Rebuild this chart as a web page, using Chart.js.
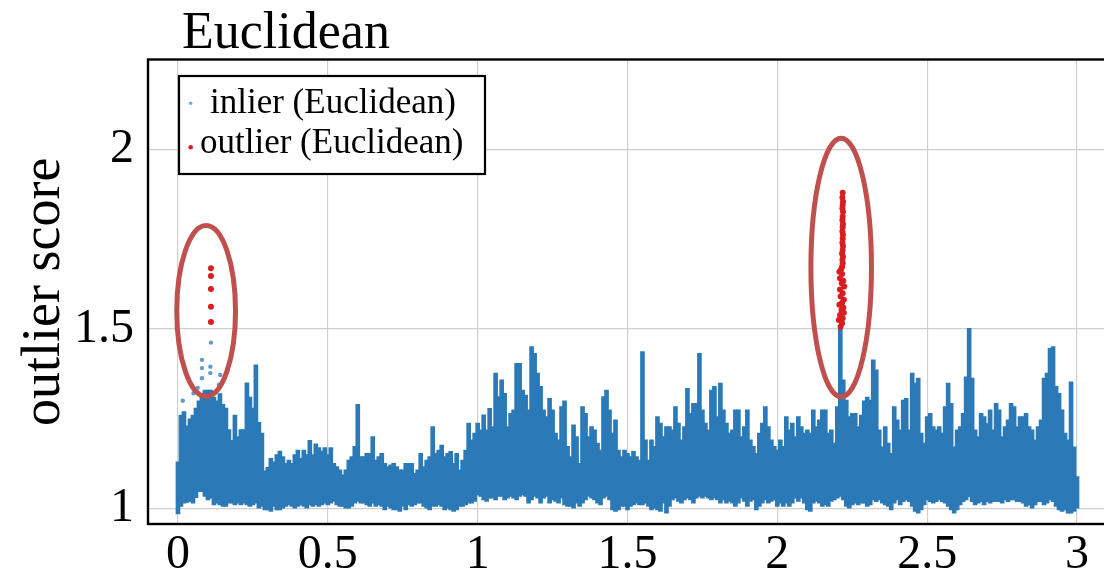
<!DOCTYPE html>
<html>
<head>
<meta charset="utf-8">
<title>Euclidean outlier score</title>
<script src="https://cdn.jsdelivr.net/npm/chart.js@4.4.1/dist/chart.umd.min.js"></script>
<style>
    html, body { margin: 0; padding: 0; background: #fff; overflow: hidden; }
    #wrap { width: 1112px; height: 573px; }
</style>
</head>
<body>
<div id="wrap"><canvas id="score-chart"></canvas></div>
<script>
// texts and ticks
const chartTitle = 'Euclidean';
const yAxisTitle = 'outlier score';
const seriesLabels = ['inlier (Euclidean)', 'outlier (Euclidean)'];
const xTicks = [0, 0.5, 1, 1.5, 2, 2.5, 3];
const yTicks = [1, 1.5, 2];

// inliers: too many points to list, so one column per 0.01 in x,
// lowest and highest score of the band in that column (x = 0 .. 3)
const binStep = 0.01;
const inlierHigh = [
    1.13, 1.26, 1.27, 1.23, 1.25, 1.26, 1.28, 1.30, 1.32, 1.33,
    1.33, 1.33, 1.31, 1.30, 1.32, 1.29, 1.28, 1.22, 1.19, 1.26,
    1.20, 1.22, 1.22, 1.35, 1.31, 1.28, 1.40, 1.24, 1.21, 1.105,
    1.115, 1.14, 1.13, 1.15, 1.16, 1.145, 1.126, 1.135, 1.126, 1.15,
    1.163, 1.14, 1.163, 1.15, 1.19, 1.15, 1.18, 1.17, 1.16, 1.17,
    1.15, 1.17, 1.126, 1.117, 1.108, 1.094, 1.108, 1.135, 1.145, 1.173,
    1.29, 1.145, 1.145, 1.154, 1.154, 1.20, 1.135, 1.145, 1.154, 1.126,
    1.117, 1.122, 1.126, 1.117, 1.108, 1.108, 1.126, 1.126, 1.126, 1.098,
    1.108, 1.154, 1.117, 1.135, 1.145, 1.228, 1.154, 1.163, 1.177, 1.145,
    1.154, 1.159, 1.126, 1.154, 1.108, 1.135, 1.163, 1.238, 1.191, 1.21,
    1.238, 1.219, 1.261, 1.219, 1.279, 1.228, 1.377, 1.312, 1.358, 1.321,
    1.228, 1.265, 1.275, 1.404, 1.404, 1.33, 1.316, 1.275, 1.451, 1.432,
    1.377, 1.34, 1.275, 1.256, 1.307, 1.275, 1.21, 1.191, 1.284, 1.30,
    1.173, 1.145, 1.233, 1.20, 1.126, 1.284, 1.265, 1.20, 1.228, 1.219,
    1.182, 1.163, 1.312, 1.33, 1.275, 1.21, 1.247, 1.163, 1.145, 1.163,
    1.154, 1.145, 1.159, 1.145, 1.135, 1.437, 1.191, 1.135, 1.191, 1.173,
    1.256, 1.238, 1.20, 1.228, 1.228, 1.219, 1.284, 1.238, 1.191, 1.228,
    1.335, 1.265, 1.293, 1.293, 1.432, 1.275, 1.238, 1.219, 1.33, 1.34,
    1.256, 1.349, 1.275, 1.238, 1.21, 1.219, 1.275, 1.275, 1.20, 1.228,
    1.275, 1.191, 1.173, 1.154, 1.21, 1.238, 1.284, 1.228, 1.191, 1.173,
    1.163, 1.191, 1.173, 1.256, 1.219, 1.238, 1.20, 1.256, 1.228, 1.21,
    1.219, 1.21, 1.275, 1.228, 1.247, 1.275, 1.275, 1.21, 1.219, 1.182,
    1.284, 1.50, 1.358, 1.302, 1.256, 1.265, 1.265, 1.228, 1.26, 1.30,
    1.31, 1.302, 1.414, 1.386, 1.219, 1.172, 1.228, 1.182, 1.154, 1.284,
    1.247, 1.219, 1.302, 1.307, 1.219, 1.377, 1.349, 1.363, 1.21, 1.182,
    1.256, 1.265, 1.228, 1.219, 1.228, 1.21, 1.284, 1.349, 1.293, 1.172,
    1.219, 1.228, 1.265, 1.367, 1.502, 1.363, 1.219, 1.20, 1.265, 1.256,
    1.237, 1.275, 1.219, 1.293, 1.275, 1.20, 1.228, 1.247, 1.293, 1.284,
    1.228, 1.256, 1.256, 1.265, 1.228, 1.219, 1.191, 1.228, 1.247, 1.363,
    1.377, 1.446, 1.451, 1.34, 1.321, 1.275, 1.21, 1.191, 1.353, 1.172,
    1.089
];
const inlierLow = [
    0.985, 1.006, 1.015, 1.017, 1.02, 1.015, 1.03, 1.047, 1.047, 1.034,
    1.024, 1.029, 1.01, 1.015, 1.01, 1.006, 1.006, 1.015, 1.015, 1.01,
    1.015, 1.01, 1.015, 1.01, 1.006, 1.01, 1.015, 1.001, 1.006, 0.996,
    0.996, 0.992, 1.006, 0.996, 0.996, 1.001, 1.006, 1.01, 1.006, 1.001,
    1.006, 1.01, 1.006, 1.001, 1.01, 1.006, 1.01, 1.006, 1.01, 1.015,
    1.01, 1.015, 1.02, 1.01, 1.006, 1.006, 1.001, 1.001, 1.006, 1.015,
    1.02, 1.015, 1.015, 1.01, 1.006, 1.015, 1.006, 1.01, 1.006, 0.996,
    1.006, 1.001, 0.996, 0.996, 0.992, 1.006, 0.996, 1.01, 1.006, 1.01,
    1.015, 1.015, 1.006, 1.001, 0.996, 1.006, 1.006, 1.01, 1.006, 0.996,
    1.001, 0.996, 0.992, 0.996, 1.006, 1.006, 1.01, 1.015, 1.015, 1.02,
    1.038, 1.034, 1.024, 1.02, 1.029, 1.029, 1.024, 1.034, 1.034, 1.024,
    1.029, 1.034, 1.029, 1.024, 1.034, 1.038, 1.034, 1.015, 1.024, 1.034,
    1.029, 1.015, 1.029, 1.034, 1.015, 1.024, 1.02, 1.015, 1.029, 1.01,
    1.006, 1.006, 1.001, 1.015, 1.006, 1.015, 1.024, 1.034, 1.029, 1.024,
    1.015, 1.01, 1.029, 1.034, 1.024, 0.996, 0.992, 0.996, 1.006, 1.006,
    0.996, 1.006, 1.01, 1.015, 1.01, 1.01, 1.015, 1.006, 0.996, 1.001,
    0.996, 0.992, 1.015, 0.987, 1.006, 1.024, 1.029, 1.02, 1.015, 1.024,
    1.029, 1.024, 1.015, 1.029, 1.034, 1.029, 1.034, 1.029, 1.024, 1.029,
    1.024, 1.015, 1.024, 1.015, 1.02, 1.015, 1.006, 1.015, 1.029, 1.02,
    1.006, 1.02, 1.024, 0.996, 1.006, 1.015, 1.024, 1.015, 1.02, 1.024,
    1.006, 1.015, 1.006, 1.015, 1.006, 1.015, 1.029, 1.02, 1.029, 1.015,
    0.996, 0.992, 1.015, 1.02, 1.015, 1.006, 1.01, 1.006, 1.02, 1.024,
    1.029, 1.034, 1.024, 1.006, 1.001, 1.01, 1.015, 1.01, 1.015, 1.015,
    1.006, 1.01, 1.024, 1.019, 1.024, 1.015, 1.01, 1.006, 0.996, 1.015,
    1.024, 1.01, 1.019, 1.024, 1.019, 1.006, 0.992, 0.987, 0.996, 1.01,
    1.024, 1.019, 1.015, 1.019, 1.024, 1.019, 1.015, 1.006, 0.996, 0.987,
    0.996, 1.01, 1.019, 1.024, 1.033, 1.019, 1.01, 1.015, 1.019, 1.01,
    1.019, 1.015, 1.019, 1.019, 1.019, 1.015, 1.024, 1.019, 1.024, 1.024,
    1.019, 1.019, 1.015, 1.006, 1.01, 1.001, 1.01, 1.019, 1.019, 1.01,
    1.015, 1.024, 1.019, 1.006, 0.996, 0.992, 0.996, 0.987, 0.987, 0.992,
    1.001
];

// loose inlier points above the band near x = 0.1
const sparseX = [0.080, 0.080, 0.080, 0.108, 0.108, 0.110, 0.141, 0.016, 0.052, 0.137, 0.066];
const sparseY = [1.414, 1.391, 1.363, 1.395, 1.377, 1.462, 1.372, 1.300, 1.321, 1.345, 1.336];

// outliers
const outlierX = [
    0.110, 0.110, 0.110, 0.110, 0.110,
    2.218, 2.217, 2.219, 2.218, 2.217, 2.219, 2.218, 2.217, 2.219, 2.218,
    2.217, 2.219, 2.218, 2.217, 2.219, 2.218, 2.216, 2.219, 2.217, 2.218,
    2.216, 2.213, 2.207, 2.216, 2.209, 2.220, 2.215, 2.223, 2.209, 2.218,
    2.211, 2.222, 2.216, 2.207, 2.220, 2.214, 2.222, 2.209, 2.218, 2.205,
    2.216, 2.211
];
const outlierY = [
    1.669, 1.647, 1.611, 1.562, 1.519,
    1.879, 1.866, 1.854, 1.845, 1.836, 1.826, 1.813, 1.803, 1.792, 1.783,
    1.771, 1.762, 1.752, 1.740, 1.731, 1.720, 1.710, 1.701, 1.692, 1.683,
    1.673, 1.666, 1.659, 1.653, 1.641, 1.634, 1.627, 1.618, 1.610, 1.599,
    1.590, 1.581, 1.573, 1.567, 1.560, 1.553, 1.545, 1.539, 1.530, 1.525,
    1.516, 1.506
];

// hand drawn rings round the two outlier groups (centre, half axes, data units)
const ringX = [0.094, 2.213];
const ringY = [1.550, 1.671];
const ringRx = [0.098, 0.101];
const ringRy = [0.238, 0.360];

const FONT = 'Liberation Serif';
const BLUE = '#2b7ab7';
const RED = '#d81e1e';

const bandData = inlierHigh.map((hi, i) => ({ x: +(i * binStep).toFixed(2), y: [inlierLow[i], hi] }));
const sparseData = sparseX.map((x, i) => ({ x, y: sparseY[i] }));
const outlierData = outlierX.map((x, i) => ({ x, y: outlierY[i] }));

// frame, rings, title and legend box
const decorations = {
    id: 'decorations',
    afterDatasetsDraw(chart) {
        const { ctx, chartArea: a, scales: { x, y } } = chart;
        ctx.save();

        ctx.strokeStyle = '#c0504d';
        ctx.lineWidth = 5;
        ringX.forEach((cx, i) => {
            const px = x.getPixelForValue(cx);
            const py = y.getPixelForValue(ringY[i]);
            const rx = Math.abs(x.getPixelForValue(cx + ringRx[i]) - px);
            const ry = Math.abs(y.getPixelForValue(ringY[i] + ringRy[i]) - py);
            ctx.beginPath();
            ctx.ellipse(px, py, rx, ry, 0, 0, Math.PI * 2);
            ctx.stroke();
        });

        ctx.strokeStyle = '#000';
        ctx.lineWidth = 2.4;
        ctx.strokeRect(a.left, a.top, a.right - a.left, a.bottom - a.top);

        ctx.fillStyle = '#000';
        ctx.textAlign = 'left';
        ctx.textBaseline = 'alphabetic';
        ctx.font = `52px "${FONT}"`;
        ctx.fillText(chartTitle, a.left + 34, a.top - 11.5);

        // legend
        const lx = a.left + 31, ly = a.top + 16.5;
        ctx.fillStyle = '#fff';
        ctx.fillRect(lx, ly, 306, 98);
        ctx.lineWidth = 2.2;
        ctx.strokeRect(lx, ly, 306, 98);

        ctx.fillStyle = '#6fa8d8';
        ctx.beginPath(); ctx.arc(lx + 11.7, ly + 27.3, 1.7, 0, Math.PI * 2); ctx.fill();
        ctx.fillStyle = RED;
        ctx.beginPath(); ctx.arc(lx + 11.7, ly + 71.3, 2.3, 0, Math.PI * 2); ctx.fill();

        ctx.fillStyle = '#000';
        ctx.font = `35px "${FONT}"`;
        ctx.fillText(seriesLabels[0], lx + 31, ly + 36.7);
        ctx.fillText(seriesLabels[1], lx + 21, ly + 77);
        ctx.restore();
    }
};

const ctx = document.getElementById('score-chart');
new Chart(ctx, {
    type: 'scatter',
    data: {
        datasets: [
            {
                type: 'scatter',
                label: seriesLabels[1],
                data: outlierData,
                backgroundColor: RED,
                borderColor: RED,
                borderWidth: 0,
                pointRadius: 3,
                order: 0,
            },
            {
                type: 'scatter',
                label: seriesLabels[0],
                data: sparseData,
                backgroundColor: 'rgba(43,122,183,0.75)',
                borderWidth: 0,
                pointRadius: 2.2,
                order: 1,
            },
            {
                type: 'bar',
                label: seriesLabels[0],
                data: bandData,
                backgroundColor: BLUE,
                borderWidth: 0,
                barThickness: 4,
                grouped: false,
                order: 2,
            },
        ],
    },
    options: {
        responsive: true,
        maintainAspectRatio: false,
        animation: false,
        events: [],
        layout: { padding: { top: 59.5, right: 5, left: 0, bottom: 0 } },
        plugins: {
            legend: { display: false },
            tooltip: { enabled: false },
        },
        scales: {
            x: {
                type: 'linear',
                min: -0.1,
                max: 3.1,
                offset: false,
                afterFit: s => { s.height = 49; },
                afterBuildTicks: s => { s.ticks = xTicks.map(v => ({ value: v })); },
                ticks: {
                    color: '#000',
                    font: { family: FONT, size: 48 },
                    padding: 3,
                    maxRotation: 0,
                    autoSkip: false,
                    callback: v => String(v),
                },
                grid: { color: '#cfcfcf', lineWidth: 1.2, drawTicks: false, offset: false },
                border: { display: false },
            },
            y: {
                type: 'linear',
                min: 0.957,
                max: 2.25,
                afterFit: s => { s.width = 148; },
                afterBuildTicks: s => { s.ticks = yTicks.map(v => ({ value: v })); },
                ticks: {
                    color: '#000',
                    font: { family: FONT, size: 48 },
                    padding: 14,
                    callback: v => String(v),
                },
                grid: { color: '#cfcfcf', lineWidth: 1.2, drawTicks: false },
                border: { display: false },
                title: {
                    display: true,
                    text: yAxisTitle,
                    color: '#000',
                    font: { family: FONT, size: 54 },
                    padding: { top: 12, bottom: 0 },
                },
            },
        },
    },
    plugins: [decorations],
});
</script>
</body>
</html>
